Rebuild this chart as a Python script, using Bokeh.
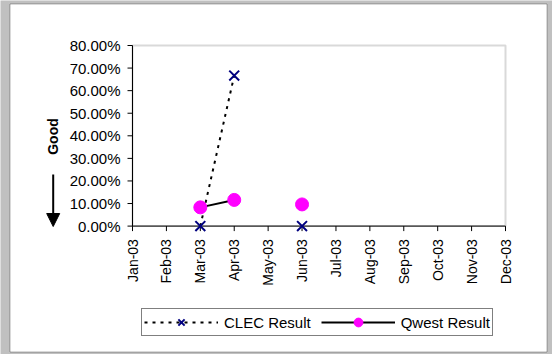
import math
from bokeh.plotting import figure
from bokeh.models import (Range1d, Legend, LegendItem, Arrow, NormalHead, BoxAnnotation)
from bokeh.core.properties import value
from bokeh.embed import file_html
from bokeh.resources import INLINE
import numpy as np

# ---- data ----
months = ["Jan-03", "Feb-03", "Mar-03", "Apr-03", "May-03", "Jun-03",
          "Jul-03", "Aug-03", "Sep-03", "Oct-03", "Nov-03", "Dec-03"]
clec = [np.nan, np.nan, 0.0, 0.6667, np.nan, 0.0, np.nan, np.nan, np.nan, np.nan, np.nan, np.nan]
qwest = [np.nan, np.nan, 0.083, 0.116, np.nan, 0.096, np.nan, np.nan, np.nan, np.nan, np.nan, np.nan]
y_ticks = [0.0, 0.1, 0.2, 0.3, 0.4, 0.5, 0.6, 0.7, 0.8]
y_tick_labels = ["0.00%", "10.00%", "20.00%", "30.00%", "40.00%", "50.00%", "60.00%", "70.00%", "80.00%"]

x = list(range(len(months)))
FONT = "Liberation Sans"

# ---- layout (pixels) ----
W, H = 552, 354
PLOT_L, PLOT_R = 132, 505          # x pixel of first / last category
PLOT_T, PLOT_B = 45, 225.6         # y pixel of 80% / 0%
Y_MAX = y_ticks[-1]
DX = (PLOT_R - PLOT_L) / (len(months) - 1)
DY = (PLOT_B - PLOT_T) / Y_MAX

def px_x(px):
    return (px - PLOT_L) / DX

def px_y(py):
    return (PLOT_B - py) / DY

p = figure(width=W, height=H, output_backend="svg", toolbar_location=None,
           x_axis_location=None, y_axis_location=None,
           x_range=Range1d(px_x(0), px_x(W)), y_range=Range1d(px_y(H), px_y(0)),
           min_border=0, min_border_left=0, min_border_right=0,
           min_border_top=0, min_border_bottom=0)
p.outline_line_color = None
p.grid.visible = False
p.background_fill_color = "#c0c0c0"
p.border_fill_color = "#c0c0c0"

# white chart area with thin black border
p.add_layout(BoxAnnotation(left=px_x(9.5), right=px_x(546.5), top=px_y(3.5), bottom=px_y(351.5),
                           fill_color="white", fill_alpha=1, line_color="black", line_width=1,
                           level="underlay"))
# plot area border (gray)
p.add_layout(BoxAnnotation(left=0, right=len(months) - 1, bottom=0, top=Y_MAX,
                           fill_alpha=0, line_color="#808080", line_width=2, level="underlay"))

# axis lines and ticks
p.segment(x0=[0, 0], y0=[0, 0], x1=[0, len(months) - 1], y1=[Y_MAX, 0],
          line_color="black", line_width=1)
p.segment(x0=x, y0=[0] * len(x), x1=x, y1=[px_y(PLOT_B + 5)] * len(x),
          line_color="black", line_width=1)
p.segment(x0=[px_x(PLOT_L - 5)] * len(y_ticks), y0=y_ticks, x1=[0] * len(y_ticks), y1=y_ticks,
          line_color="black", line_width=1)

# tick labels
p.text(x=[px_x(PLOT_L - 12)] * len(y_ticks), y=y_ticks, text=y_tick_labels,
       text_font=value(FONT), text_font_size="15px", text_color="black",
       text_align="right", text_baseline="middle")
p.text(x=x, y=[px_y(PLOT_B + 13)] * len(x), text=months, angle=math.pi / 2,
       text_font=value(FONT), text_font_size="14px", text_color="black",
       text_align="right", text_baseline="middle")

# "Good" label with downward arrow
p.text(x=[px_x(52)], y=[px_y(136)], text=["Good"], angle=math.pi / 2,
       text_font=value(FONT), text_font_size="14px", text_font_style="bold",
       text_color="black", text_align="center", text_baseline="middle")
p.add_layout(Arrow(x_start=px_x(52.7), y_start=px_y(174), x_end=px_x(52.7), y_end=px_y(226),
                   line_color="black", line_width=2,
                   end=NormalHead(size=13, fill_color="black", line_color="black")))

# series
l1 = p.line(x, clec, line_color="black", line_width=2, line_dash="3 5")
s1 = p.scatter(x, clec, marker="x", size=14, line_color="#000080", line_width=2)
l2 = p.line(x, qwest, line_color="black", line_width=2)
s2 = p.scatter(x, qwest, marker="circle", size=13, fill_color="#FF00FF", line_color="#FF00FF")

legend = Legend(items=[LegendItem(label="CLEC Result", renderers=[l1, s1]),
                       LegendItem(label="Qwest Result", renderers=[l2, s2])],
                orientation="horizontal", location=(141, H - 336))
legend.glyph_width = 74
legend.glyph_height = 22
legend.label_height = 16
legend.label_standoff = 6
legend.spacing = 10
legend.padding = 2
legend.margin = 0
legend.label_text_font = FONT
legend.label_text_font_size = "15px"
legend.label_text_color = "black"
legend.border_line_color = "black"
legend.border_line_width = 1
legend.background_fill_color = "white"
legend.background_fill_alpha = 1
p.add_layout(legend, "center")

open("out.html", "w").write(file_html(p, INLINE))
